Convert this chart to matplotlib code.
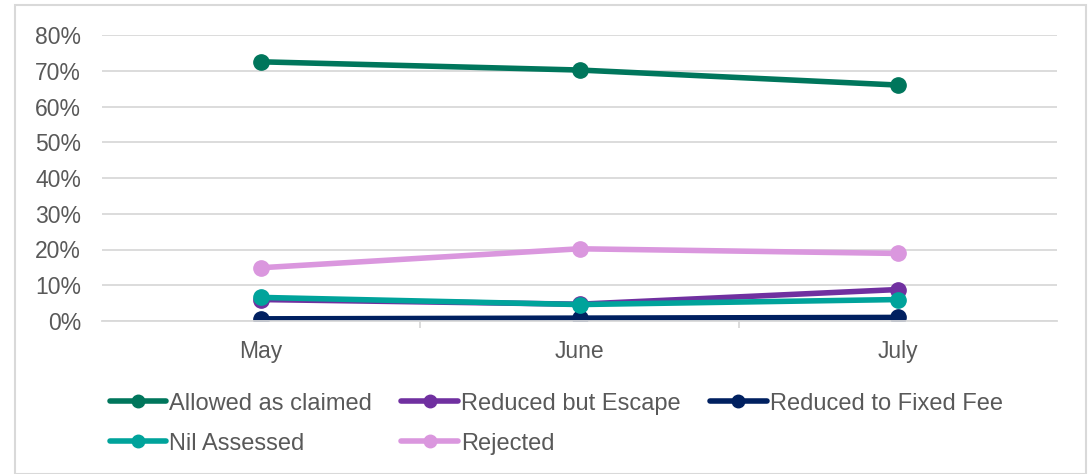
import matplotlib.pyplot as plt
from matplotlib.patches import Rectangle
from matplotlib.ticker import FuncFormatter

plt.rcParams['font.family'] = ['Liberation Sans', 'DejaVu Sans']

months = ['May', 'June', 'July']
allowed = [72.5, 70.2, 66.0]
escape = [6.0, 4.7, 8.8]
fixed_fee = [0.6, 0.8, 1.0]
nil_assessed = [6.6, 4.6, 6.0]
rejected = [14.9, 20.2, 18.9]

series = [
    ('Allowed as claimed', allowed, '#00765C'),
    ('Reduced but Escape', escape, '#7030A0'),
    ('Reduced to Fixed Fee', fixed_fee, '#002060'),
    ('Nil Assessed', nil_assessed, '#00A39B'),
    ('Rejected', rejected, '#DA97DE'),
]

fig = plt.figure(figsize=(10.91, 4.74), dpi=100)
ax = fig.add_axes([102 / 1091, 1 - 321 / 474, 955 / 1091, 286 / 474])

x = range(len(months))
lines = []
for label, vals, col in series:
    ln, = ax.plot(x, vals, color=col, lw=4, marker='o', ms=11, label=label,
                  solid_capstyle='round')
    lines.append(ln)

ax.set_xlim(-0.5, 2.5)
ax.set_ylim(0, 80)
ax.set_yticks(range(0, 81, 10))
ax.yaxis.set_major_formatter(FuncFormatter(lambda v, p: f'{v:.0f}%'))
ax.set_xticks(list(x))
ax.set_xticklabels(months)
ax.set_xticks([0.5, 1.5], minor=True)
ax.tick_params(axis='x', which='major', length=0, pad=14, labelsize=16.5, colors='#595959')
ax.tick_params(axis='x', which='minor', length=5, color='#d9d9d9', width=1.3)
ax.tick_params(axis='y', length=0, pad=15, labelsize=16.5, colors='#595959')
ax.grid(axis='y', color='#d9d9d9', lw=1.3)
ax.set_axisbelow(True)
for s in ['top', 'right', 'left']:
    ax.spines[s].set_visible(False)
ax.spines['bottom'].set_color('#d9d9d9')
ax.spines['bottom'].set_linewidth(1.3)

# legend filled row by row like the original
order = [0, 3, 1, 4, 2]
leg = fig.legend([lines[i] for i in order], [series[i][0] for i in order],
                 loc='upper left', bbox_to_anchor=(93 / 1091, 1 - 376 / 474), ncol=3,
                 frameon=False, fontsize=17, handlelength=2.4, handletextpad=0.12,
                 columnspacing=1.25, labelspacing=0.77, labelcolor='#595959',
                 borderpad=0.2)
for h in leg.legend_handles:
    h.set_markersize(9)

fig.patches.append(Rectangle((15 / 1091, 0), 1071 / 1091, 1 - 5 / 474,
                             transform=fig.transFigure, fill=False,
                             edgecolor='#d9d9d9', lw=1.5))

fig.savefig('out.png', dpi=100)
